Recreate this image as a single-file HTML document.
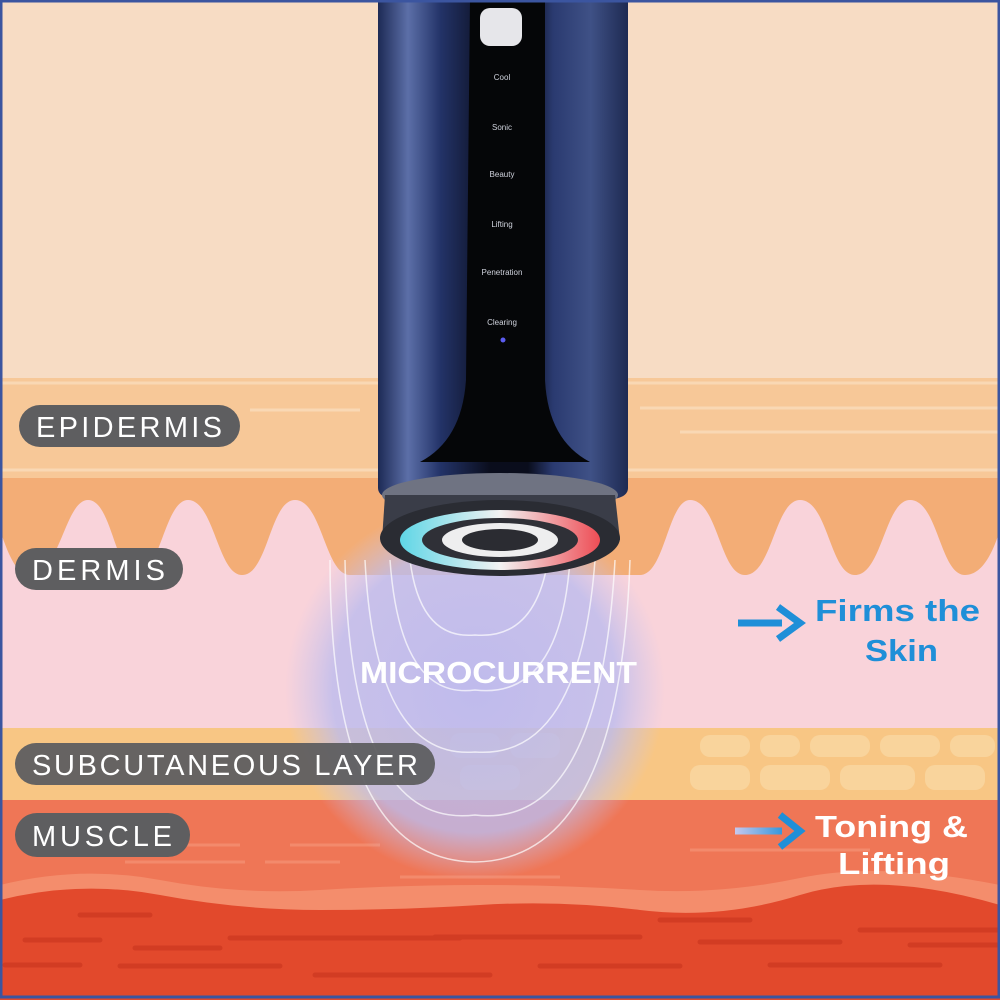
<!DOCTYPE html>
<html><head><style>
html,body{margin:0;padding:0;width:1000px;height:1000px;overflow:hidden;background:#f7dcc4}
svg{display:block}
</style></head><body>
<svg width="1000" height="1000" viewBox="0 0 1000 1000" xmlns="http://www.w3.org/2000/svg">
<defs>
<radialGradient id="glow" cx="0.5" cy="0.5" r="0.5">
<stop offset="0" stop-color="#b9b8ee" stop-opacity="0.9"/>
<stop offset="0.75" stop-color="#bcbcee" stop-opacity="0.8"/>
<stop offset="1" stop-color="#c8c4f0" stop-opacity="0"/>
</radialGradient>
<linearGradient id="body" x1="0" x2="1" y1="0" y2="0">
<stop offset="0" stop-color="#1d2a55"/>
<stop offset="0.12" stop-color="#5c6fa8"/>
<stop offset="0.25" stop-color="#233368"/>
<stop offset="0.45" stop-color="#0a0d1c"/>
<stop offset="0.6" stop-color="#0a0d1c"/>
<stop offset="0.7" stop-color="#2a3a70"/>
<stop offset="0.85" stop-color="#3f5186"/>
<stop offset="1" stop-color="#1e2a52"/>
</linearGradient>
<linearGradient id="ring" x1="0" x2="1">
<stop offset="0" stop-color="#5fd6e6"/>
<stop offset="0.5" stop-color="#f2f2f2"/>
<stop offset="1" stop-color="#ee4d55"/>
</linearGradient>
<linearGradient id="arr2" gradientUnits="userSpaceOnUse" x1="735" y1="0" x2="790" y2="0"><stop offset="0" stop-color="#c6c8ee"/><stop offset="1" stop-color="#1f8fd8"/></linearGradient>
</defs>
<rect width="1000" height="1000" fill="#f7dcc4"/>
<!-- epidermis -->
<rect y="378" width="1000" height="102" fill="#f7c898"/>
<g stroke="#fadcbc" stroke-width="3" opacity="0.8">
<line x1="0" y1="383" x2="1000" y2="383"/>
<line x1="250" y1="410" x2="360" y2="410"/>
<line x1="640" y1="408" x2="1000" y2="408"/>
<line x1="680" y1="432" x2="1000" y2="432"/>
<line x1="0" y1="470" x2="1000" y2="470"/>
</g>
<!-- dermis -->
<rect y="478" width="1000" height="257" fill="#f9d3da"/>
<path d="M0 478 L0 530 C10 560 18 575 30 575 C60 575 65 500 88 500 C112 500 115 575 137 575 C160 575 165 500 188 500 C214 500 218 575 242 575 C268 575 270 500 295 500 C322 500 325 575 350 575 L640 575 C665 575 668 500 690 500 C718 500 720 575 745 575 C772 575 775 500 800 500 C828 500 830 575 855 575 C882 575 885 500 910 500 C938 500 940 575 965 575 C985 575 995 545 1000 530 L1000 478 Z" fill="#f3ad76"/>
<!-- subcutaneous -->
<rect y="728" width="1000" height="75" fill="#f8c684"/>
<g fill="#f9d49c">
<rect x="450" y="733" width="50" height="25" rx="10"/><rect x="510" y="733" width="50" height="25" rx="10"/><rect x="700" y="735" width="50" height="22" rx="10"/><rect x="760" y="735" width="40" height="22" rx="10"/><rect x="810" y="735" width="60" height="22" rx="10"/><rect x="880" y="735" width="60" height="22" rx="10"/><rect x="950" y="735" width="45" height="22" rx="10"/>
<rect x="690" y="765" width="60" height="25" rx="10"/><rect x="760" y="765" width="70" height="25" rx="10"/><rect x="840" y="765" width="75" height="25" rx="10"/><rect x="925" y="765" width="60" height="25" rx="10"/><rect x="460" y="765" width="60" height="25" rx="10"/>
</g>
<!-- muscle -->
<rect y="800" width="1000" height="200" fill="#ef7656"/>
<path d="M0 885 Q80 865 160 880 T320 890 T480 885 T640 890 T800 878 T1000 885 L1000 1000 L0 1000 Z" fill="#f48d6c"/>
<path d="M0 900 Q80 880 160 895 T320 910 T480 905 T640 910 T800 895 T1000 905 L1000 1000 L0 1000 Z" fill="#e2492c"/>
<g stroke="#cf3a22" stroke-width="5" stroke-linecap="round" opacity="0.8">
<line x1="80" y1="915" x2="150" y2="915"/><line x1="25" y1="940" x2="100" y2="940"/><line x1="135" y1="948" x2="220" y2="948"/><line x1="230" y1="938" x2="460" y2="938"/><line x1="5" y1="965" x2="80" y2="965"/><line x1="120" y1="966" x2="280" y2="966"/><line x1="315" y1="975" x2="490" y2="975"/><line x1="435" y1="937" x2="640" y2="937"/><line x1="540" y1="966" x2="680" y2="966"/><line x1="660" y1="920" x2="750" y2="920"/><line x1="700" y1="942" x2="840" y2="942"/><line x1="770" y1="965" x2="940" y2="965"/><line x1="860" y1="930" x2="1000" y2="930"/><line x1="910" y1="945" x2="1000" y2="945"/>
</g>
<g stroke="#f48f72" stroke-width="3" opacity="0.8">
<line x1="130" y1="845" x2="240" y2="845"/><line x1="290" y1="845" x2="380" y2="845"/><line x1="125" y1="862" x2="245" y2="862"/><line x1="265" y1="862" x2="340" y2="862"/><line x1="400" y1="877" x2="560" y2="877"/><line x1="690" y1="850" x2="870" y2="850"/>
</g>
<!-- glow -->
<circle cx="475" cy="690" r="190" fill="url(#glow)"/>
<g fill="none" stroke="#ffffff" stroke-width="1.5" opacity="0.7">
<path d="M330 560 Q330 860 475 862 Q620 860 630 560"/>
<path d="M345 560 Q350 830 475 815 Q600 830 615 560"/>
<path d="M365 560 Q375 760 475 752 Q580 760 595 560"/>
<path d="M390 560 Q400 700 475 690 Q560 700 570 560"/>
<path d="M410 560 Q420 640 475 635 Q535 640 548 560"/>
</g>
<text x="360" y="683" textLength="277" lengthAdjust="spacingAndGlyphs" font-family="Liberation Sans, sans-serif" font-weight="bold" font-size="31" fill="#fff">MICROCURRENT</text>
<!-- device -->
<path d="M378 0 L628 0 L628 488 Q628 500 600 500 L406 500 Q378 500 378 488 Z" fill="url(#body)"/>
<path d="M470 0 L545 0 L545 380 Q548 440 590 462 L420 462 Q462 440 466 380 Z" fill="#050608"/>
<rect x="480" y="8" width="42" height="38" rx="10" fill="#e6e6ea"/>
<g fill="#cfd2dc" font-family="Liberation Sans, sans-serif" font-size="8" text-anchor="middle">
<text x="502" y="80">Cool</text><text x="502" y="130">Sonic</text><text x="502" y="177">Beauty</text><text x="502" y="227">Lifting</text><text x="502" y="275">Penetration</text><text x="502" y="325">Clearing</text>
</g>
<circle cx="503" cy="340" r="2.5" fill="#5b5cf0"/>
<ellipse cx="500" cy="495" rx="118" ry="22" fill="#6f7382"/>
<path d="M385 495 L615 495 L620 540 L382 540 Z" fill="#3a3d48"/>
<ellipse cx="500" cy="538" rx="120" ry="38" fill="#2a2c33"/>
<ellipse cx="500" cy="540" rx="100" ry="30" fill="url(#ring)"/>
<ellipse cx="500" cy="540" rx="78" ry="22" fill="#2f3037"/>
<ellipse cx="500" cy="540" rx="58" ry="17" fill="#eeeeef"/>
<ellipse cx="500" cy="540" rx="38" ry="11" fill="#2b2c32"/>
<!-- labels -->
<g font-family="Liberation Sans, sans-serif" font-size="29" fill="#fff" lengthAdjust="spacingAndGlyphs">
<rect x="19" y="405" width="221" height="42" rx="21" fill="#5e5e60"/><text x="36" y="437" textLength="186">EPIDERMIS</text>
<rect x="15" y="548" width="168" height="42" rx="21" fill="#5e5e60"/><text x="32" y="580" textLength="133">DERMIS</text>
<rect x="15" y="743" width="420" height="42" rx="21" fill="#5e5e60" opacity="0.95"/><text x="32" y="775" textLength="386">SUBCUTANEOUS LAYER</text>
<rect x="15" y="813" width="175" height="44" rx="22" fill="#5e5e60"/><text x="32" y="846" textLength="140">MUSCLE</text>
</g>
<!-- right annotations -->
<path d="M738 623 L782 623" stroke="#1f8fd8" stroke-width="7"/>
<path d="M778 607 L800 623 L778 639" fill="none" stroke="#1f8fd8" stroke-width="7"/>
<text x="815" y="621" textLength="165" lengthAdjust="spacingAndGlyphs" font-family="Liberation Sans, sans-serif" font-weight="bold" font-size="31" fill="#1f8fd8">Firms the</text>
<text x="865" y="661" textLength="73" lengthAdjust="spacingAndGlyphs" font-family="Liberation Sans, sans-serif" font-weight="bold" font-size="31" fill="#1f8fd8">Skin</text>
<path d="M735 831 L782 831" stroke="url(#arr2)" stroke-width="7"/>
<path d="M780 815 L800 831 L780 847" fill="none" stroke="#1f8fd8" stroke-width="7"/>
<text x="815" y="837" textLength="153" lengthAdjust="spacingAndGlyphs" font-family="Liberation Sans, sans-serif" font-weight="bold" font-size="31" fill="#fff">Toning &amp;</text>
<text x="838" y="874" textLength="112" lengthAdjust="spacingAndGlyphs" font-family="Liberation Sans, sans-serif" font-weight="bold" font-size="31" fill="#fff">Lifting</text>
<rect x="1" y="1" width="998" height="996" fill="none" stroke="#3b55a0" stroke-width="3"/>
</svg>
</body></html>
